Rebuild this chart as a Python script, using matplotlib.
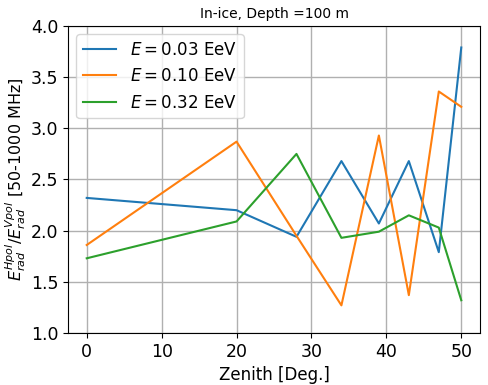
import matplotlib
matplotlib.use("Agg")
import matplotlib.pyplot as plt

# zenith angles
zen = [0, 20, 28, 34, 39, 43, 47, 50]

# ratio Hpol/Vpol per energy
r_003 = [2.32, 2.20, 1.94, 2.68, 2.07, 2.68, 1.79, 3.79]
r_010 = [1.86, 2.87, 1.95, 1.27, 2.93, 1.37, 3.36, 3.21]
r_032 = [1.73, 2.09, 2.75, 1.93, 1.99, 2.15, 2.03, 1.32]

labels = [r"$E = 0.03$ EeV", r"$E = 0.10$ EeV", r"$E = 0.32$ EeV"]

fig = plt.figure(figsize=(4.88, 3.85), dpi=100)
ax = fig.add_axes([68/488, 1-333/385, 412/488, 307/385])

ax.plot(zen, r_003, label=labels[0])
ax.plot(zen, r_010, label=labels[1])
ax.plot(zen, r_032, label=labels[2])

ax.set_ylim(1.0, 4.0)
ax.set_xticks([0, 10, 20, 30, 40, 50])
ax.grid(True, linewidth=1)
ax.tick_params(labelsize=12.5)
ax.set_xlabel("Zenith [Deg.]", fontsize=12)
ax.set_ylabel(r"$E_{rad}^{Hpol}/E_{rad}^{Vpol}$ [50-1000 MHz]", fontsize=11.5, labelpad=2)
ax.set_title("In-ice, Depth =100 m", fontsize=10)
ax.legend(loc="upper left", fontsize=12)

fig.savefig("out.png", dpi=100)
